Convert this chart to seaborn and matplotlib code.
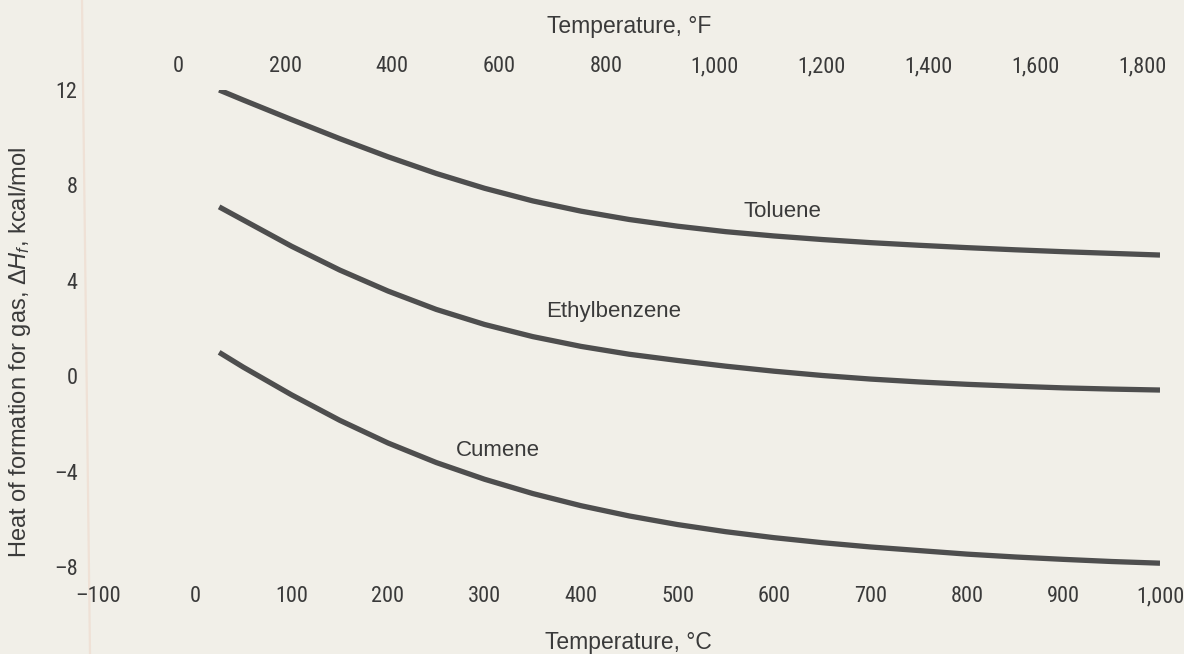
import matplotlib
matplotlib.use("Agg")
import matplotlib.pyplot as plt
from matplotlib import font_manager
from matplotlib.font_manager import FontProperties
from matplotlib.lines import Line2D
from matplotlib.ticker import FuncFormatter
import pandas as pd
import seaborn as sns

# Heat of formation of gaseous aromatics (kcal/mol) versus temperature (deg C)
temp_c = [25, 50, 100, 150, 200, 250, 300, 350, 400, 450, 500,
          550, 600, 650, 700, 750, 800, 850, 900, 950, 1000]
toluene = [12.0, 11.58, 10.76, 9.96, 9.2, 8.5, 7.88, 7.35, 6.92, 6.57, 6.29,
           6.06, 5.88, 5.73, 5.6, 5.49, 5.39, 5.3, 5.22, 5.15, 5.08]
ethylbenzene = [7.1, 6.55, 5.45, 4.45, 3.57, 2.8, 2.17, 1.66, 1.25, 0.92, 0.66,
                0.42, 0.21, 0.03, -0.12, -0.24, -0.34, -0.42, -0.49, -0.54, -0.58]
cumene = [1.0, 0.38, -0.78, -1.85, -2.8, -3.62, -4.32, -4.92, -5.43, -5.86, -6.22,
          -6.52, -6.77, -6.98, -7.16, -7.31, -7.46, -7.58, -7.68, -7.77, -7.84]

compounds = ["Toluene", "Ethylbenzene", "Cumene"]
label_temp = [609, 434, 314]
label_value = [6.9, 2.7, -3.1]

c_ticks = [-100, 0, 100, 200, 300, 400, 500, 600, 700, 800, 900, 1000]
f_ticks = [0, 200, 400, 600, 800, 1000, 1200, 1400, 1600, 1800]
y_ticks = [12, 8, 4, 0, -4, -8]

df = pd.DataFrame({
    "temp_c": temp_c * 3,
    "dhf": toluene + ethylbenzene + cumene,
    "compound": sum([[c] * len(temp_c) for c in compounds], []),
})

sns.set_theme(style="white")
installed = {f.name for f in font_manager.fontManager.ttflist}
txt_font = "Liberation Sans" if "Liberation Sans" in installed else "DejaVu Sans"
plt.rcParams["font.family"] = [txt_font, "DejaVu Sans"]
plt.rcParams["mathtext.fontset"] = "custom"
plt.rcParams["mathtext.rm"] = txt_font
plt.rcParams["mathtext.it"] = txt_font + ":italic"


def narrow_numeral_font(size):
    """Pick a condensed upright face for the numerals, if one is installed."""
    prefs = ["Roboto Condensed", "Liberation Sans Narrow", "Noto Sans Condensed",
             "Noto Sans", "Open Sans Condensed", "Open Sans", "DejaVu Sans Condensed",
             "DejaVu Sans"]
    cands = []
    for f in font_manager.fontManager.ttflist:
        if f.style != "normal" or f.weight not in (400, "normal", "regular"):
            continue
        narrow = ("Condensed" in f.name or "Narrow" in f.name
                  or f.stretch in ("condensed", "semi-condensed", 400, 300))
        if not narrow:
            continue
        base = f.name
        rank = prefs.index(base) if base in prefs else len(prefs)
        semi = 1 if f.stretch == "semi-condensed" else 0
        extra = 2 if "Extra" in f.fname or "Ultra" in f.fname else 0
        cands.append((rank, extra, semi, f.fname))
    if cands:
        cands.sort()
        return FontProperties(fname=cands[0][3], size=size)
    fam = "Roboto" if "Roboto" in installed else "DejaVu Sans"
    return FontProperties(family=fam, size=size - 1)


num_fp = narrow_numeral_font(16)

paper = "#f1efe8"
ink = "#3a3a3a"
fig = plt.figure(figsize=(11.84, 6.54), dpi=100, facecolor=paper)
W, H = 1184, 654
x0, x1 = 98.5, 1160
y_top, y_bot = 90, 567
ax = fig.add_axes([x0 / W, (H - y_bot) / H, (x1 - x0) / W, (y_bot - y_top) / H])
ax.set_facecolor(paper)

sns.lineplot(data=df, x="temp_c", y="dhf", hue="compound",
             palette={c: "#4e4e4e" for c in compounds}, linewidth=3.8,
             legend=False, ax=ax, solid_capstyle="butt", solid_joinstyle="round")

for name, tx, ty in zip(compounds, label_temp, label_value):
    ax.text(tx, ty, name, fontsize=16, color=ink, ha="center", va="center")

ax.set_xlim(-100, 1000)
ax.set_ylim(-8, 12)
for s in ax.spines.values():
    s.set_visible(False)

# thousands separator and a long dash for negatives, as in print
comma = FuncFormatter(lambda v, p: f"{int(v):,}".replace("-", "\u2013"))
ax.set_xticks(c_ticks)
ax.set_yticks(y_ticks)
ax.xaxis.set_major_formatter(comma)
ax.yaxis.set_major_formatter(comma)
ax.tick_params(axis="x", length=0, pad=14, labelcolor=ink)
ax.tick_params(axis="y", length=0, pad=15, labelcolor=ink)

secax = ax.secondary_xaxis("top", functions=(lambda c: c * 9 / 5 + 32,
                                             lambda f: (f - 32) * 5 / 9))
secax.set_xticks(f_ticks)
secax.xaxis.set_major_formatter(comma)
secax.tick_params(axis="x", length=0, pad=9, labelcolor=ink)
secax.spines["top"].set_visible(False)

fig.canvas.draw()
for lab in ax.get_xticklabels() + ax.get_yticklabels() + secax.get_xticklabels():
    lab.set_fontproperties(num_fp)

ax.set_xlabel("Temperature, \u00b0C", fontsize=16.5, color=ink)
ax.xaxis.set_label_coords((628 - x0) / (x1 - x0), -(631 - y_bot) / (y_bot - y_top))
secax.set_xlabel("Temperature, \u00b0F", fontsize=16.5, color=ink, labelpad=17)
ax.set_ylabel(r"Heat of formation for gas, $\Delta H_f$, kcal/mol", fontsize=17, color=ink)
ax.yaxis.set_label_coords((33 - x0) / (x1 - x0), (y_bot - 352) / (y_bot - y_top))

# faint margin rule of the printed page, behind the tick labels
fig.add_artist(Line2D([82 / W, 90 / W], [1, 0], color="#efe1d6", linewidth=1.6, zorder=-1))

fig.savefig("out.png", dpi=100, facecolor=paper)
